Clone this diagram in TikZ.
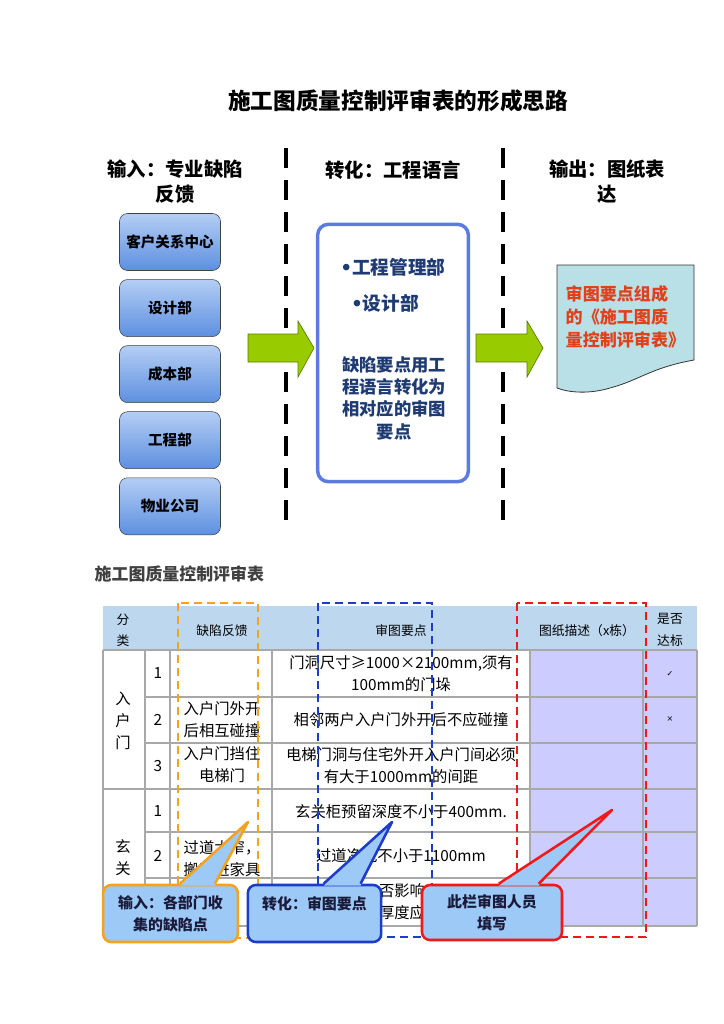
\documentclass[tikz,border=0pt]{standalone}
\usepackage{fontspec}
\setmainfont{Noto Sans CJK SC}
\newfontfamily\symfont{DejaVu Sans}
\usepackage{xcolor}
\usetikzlibrary{positioning, calc}

\definecolor{deptTop}{HTML}{B4CEF5}
\definecolor{deptBot}{HTML}{5D8FE0}
\definecolor{arrowGreen}{HTML}{99CC00}
\definecolor{arrowEdge}{HTML}{5A7A00}
\definecolor{transBlue}{HTML}{5B7BE0}
\definecolor{navyText}{HTML}{1F3B73}
\definecolor{docFill}{HTML}{B9E0E6}
\definecolor{docText}{HTML}{E0401A}
\definecolor{headBlue}{HTML}{BDD7EE}
\definecolor{cellPurple}{HTML}{CCCCFF}
\definecolor{gridGray}{HTML}{A8A8A8}
\definecolor{dashOrange}{HTML}{F7A21B}
\definecolor{dashBlue}{HTML}{1C3CCC}
\definecolor{dashRed}{HTML}{F01818}
\definecolor{callFill}{HTML}{9CC9F5}
\definecolor{callText}{HTML}{1A1A3A}

\begin{document}
\begin{tikzpicture}[x=0.75pt, y=-0.75pt,
    dept/.style={draw=black!75, rounded corners=6pt, top color=deptTop, bottom color=deptBot,
        minimum width=75.75pt, minimum height=42.75pt, font=\bfseries\fontsize{10.9}{13}\selectfont},
    sepline/.style={line width=3pt, dash pattern=on 15pt off 9pt},
    bigarrow/.style={fill=arrowGreen, draw=arrowEdge, line width=0.5pt},
    colhead/.style={font=\bfseries\fontsize{14.5}{18.75}\selectfont, align=center},
    bluetxt/.style={text=navyText, font=\bfseries\fontsize{14}{17}\selectfont, align=center},
    grid/.style={draw=gridGray, line width=1.1pt},
    thead/.style={font=\fontsize{9.6}{16}\selectfont, align=center},
    cell/.style={font=\fontsize{11.5}{16.5}\selectfont, align=center, inner sep=0pt},
    boxdash/.style={line width=1.5pt, dash pattern=on 6pt off 3.75pt},
    callbox/.style={fill=callFill, line width=1.9pt, rounded corners=6pt, text=callText,
        font=\bfseries\fontsize{11.2}{16.5}\selectfont, align=center, minimum height=42.75pt}
  ]
    \useasboundingbox (0,0) rectangle (724,1024);
    \fill[white] (0,0) rectangle (724,1024);

    % Title
    \node (title) [font=\bfseries\fontsize{17}{20}\selectfont] at (398,101) {施工图质量控制评审表的形成思路};

    % Column heads
    \node (inHead) [colhead] at (175,182) {输入：专业缺陷\\反馈};
    \node (trHead) [colhead] at (393,170) {转化：工程语言};
    \node (outHead) [colhead] at (607,182) {输出：图纸表\\达};

    % Separators
    \draw[sepline] (286,148) -- (286,528);
    \draw[sepline] (503,148) -- (503,526);

    % Departments
    \node (crm) [dept] at (170,242) {客户关系中心};
    \node (design) [dept, below=6.4pt of crm] {设计部};
    \node (cost) [dept, below=6.4pt of design] {成本部};
    \node (eng) [dept, below=6.4pt of cost] {工程部};
    \node (prop) [dept, below=6.4pt of eng] {物业公司};

    % Block arrows
    \draw[bigarrow] (248,334) -- (298,334) -- (298,321) -- (314,348) -- (298,377) -- (298,362) -- (248,362) -- cycle;
    \draw[bigarrow] (476,334) -- (527,334) -- (527,321) -- (543,348) -- (527,377) -- (527,362) -- (476,362) -- cycle;

    % Transformation box
    \node (trans) [draw=transBlue, line width=2.6pt, rounded corners=8pt, fill=white,
        minimum width=113pt, minimum height=193pt] at (393,353) {};
    \node (tb1) [bluetxt] at (393,267) {{\symfont •}工程管理部};
    \node (tb2) [bluetxt] at (385,303) {{\symfont •}设计部};
    \node (tb3) [bluetxt, font=\bfseries\fontsize{13}{16.75}\selectfont] at (394,398)
        {缺陷要点用工\\程语言转化为\\相对应的审图\\要点};

    % Output document
    \draw[fill=docFill, draw=black!80, line width=0.6pt] (557,265) -- (694,265) -- (694,360)
        .. controls (650,368) and (640,380) .. (610,388)
        .. controls (590,394) and (570,393) .. (557,388) -- cycle;
    \node (doc) [anchor=west, text=docText, align=left, font=\bfseries\fontsize{12.8}{17.25}\selectfont]
        at (561,317) {审图要点组成\\的《施工图质\\量控制评审表》};

    % Table title
    \node (tabTitle) [anchor=west, text=black!75, font=\bfseries\fontsize{12.7}{15}\selectfont]
        at (90,574) {施工图质量控制评审表};

    % Table
    \fill[headBlue] (103,606) rectangle (697,650);
    \fill[cellPurple] (530,650) rectangle (697,926);
    \foreach \y in {697,743,832,878}
        \draw[grid] (145,\y) -- (697,\y);
    \foreach \y in {650,789,926}
        \draw[grid] (103,\y) -- (697,\y);
    \foreach \x in {103,145,170,272,530,643,697}
        \draw[grid] (\x,650) -- (\x,926);

    % Header texts
    \node (hCat) [thead] at (123,630) {分\\类};
    \node (hDef) [thead] at (222,631) {缺陷反馈};
    \node (hKey) [thead] at (401,631) {审图要点};
    \node (hDraw) [thead] at (587,631) {图纸描述（x栋）};
    \node (hOk) [thead] at (670,630) {是否\\达标};

    % Group: entry door
    \node (gDoor) [cell] at (123,721) {入\\户\\门};
    \node [cell] at (158,673) {1};
    \node [cell] at (158,720) {2};
    \node [cell] at (158,766) {3};
    \node [cell] at (401,674) {门洞尺寸≥1000×2100mm,须有\\100mm的门垛};
    \node [cell] at (222,720) {入户门外开\\后相互碰撞};
    \node [cell] at (401,720) {相邻两户入户门外开后不应碰撞};
    \node [cell] at (222,765) {入户门挡住\\电梯门};
    \node [cell] at (401,766) {电梯门洞与住宅外开入户门间必须\\有大于1000mm的间距};
    \node [font=\symfont\fontsize{6}{7}\selectfont] at (670,674) {✓};
    \node [font=\symfont\fontsize{6}{7}\selectfont] at (670,719) {×};

    % Group: hallway
    \node (gHall) [cell] at (123,858) {玄\\关};
    \node [cell] at (158,811) {1};
    \node [cell] at (158,856) {2};
    \node [cell] at (401,812) {玄关柜预留深度不小于400mm.};
    \node [cell] at (222,859) {过道太窄，\\搬不进家具};
    \node [cell] at (401,856) {过道净宽不小于1100mm};
    \node [cell] at (402,902) {否影响\\厚度应};

    % Dashed column marks
    \draw[boxdash, draw=dashOrange] (178,603) rectangle (258,938);
    \draw[boxdash, draw=dashBlue] (318,603) rectangle (432,937);
    \draw[boxdash, draw=dashRed] (517,603) rectangle (646,937);

    % Callouts
    \coordinate (inTip) at (248,822);
    \coordinate (trTip) at (392,822);
    \coordinate (outTip) at (612,810);
    \node (inCall) [callbox, draw=dashOrange, minimum width=101pt] at (170.5,913.5)
        {输入：各部门收\\集的缺陷点};
    \node (trCall) [callbox, draw=dashBlue, minimum width=100pt] at (314.5,913.5)
        {转化：审图要点\\~};
    \node (outCall) [callbox, draw=dashRed, minimum width=105pt, minimum height=41.25pt] at (492,912.5)
        {此栏审图人员\\填写};
    \fill[callFill] ($(inCall.north west)+(78,2)$) -- (inTip) -- ($(inCall.north west)+(113,2)$) -- cycle;
    \draw[dashOrange, line width=1.9pt, line join=round] ($(inCall.north west)+(78,0)$) -- (inTip) -- ($(inCall.north west)+(113,0)$);
    \fill[callFill] ($(trCall.north west)+(77,2)$) -- (trTip) -- ($(trCall.north west)+(114,2)$) -- cycle;
    \draw[dashBlue, line width=1.9pt, line join=round] ($(trCall.north west)+(77,0)$) -- (trTip) -- ($(trCall.north west)+(114,0)$);
    \fill[callFill] ($(outCall.north west)+(78,2)$) -- (outTip) -- ($(outCall.north west)+(118,2)$) -- cycle;
    \draw[dashRed, line width=1.9pt, line join=round] ($(outCall.north west)+(78,0)$) -- (outTip) -- ($(outCall.north west)+(118,0)$);
\end{tikzpicture}
\end{document}
